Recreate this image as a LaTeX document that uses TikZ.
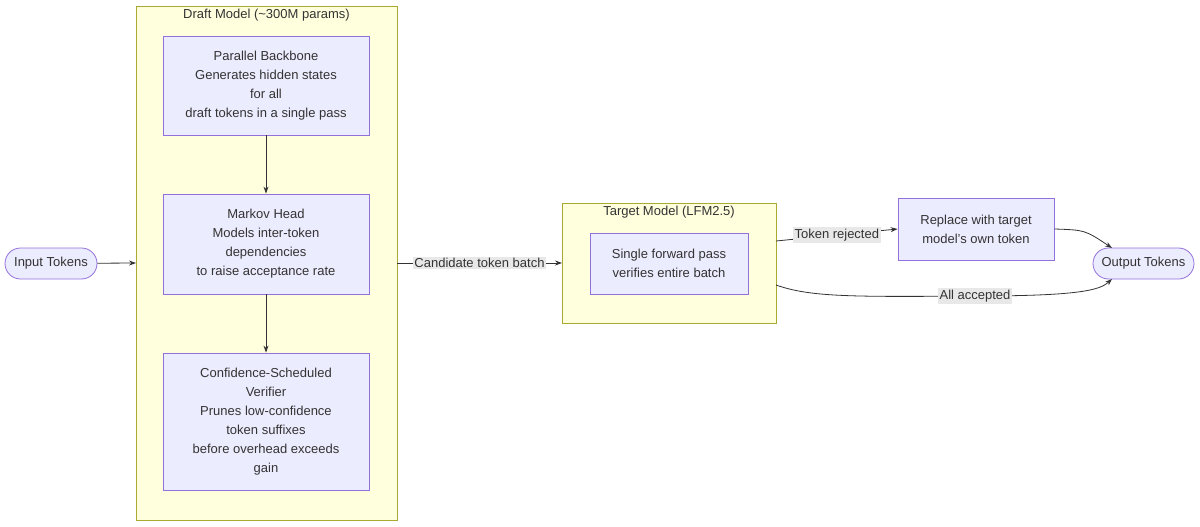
\documentclass[tikz,border=0pt]{standalone}
\usepackage{fontspec}
\setmainfont{Liberation Sans}
\usetikzlibrary{arrows.meta}
\definecolor{cfill}{HTML}{FFFFDE}\definecolor{cline}{HTML}{AAAA33}
\definecolor{nfill}{HTML}{ECECFF}\definecolor{nline}{HTML}{9370DB}
\definecolor{txt}{HTML}{333333}\definecolor{lbg}{HTML}{E8E8E8}
\begin{document}
\begin{tikzpicture}[x=1pt,y=-1pt,font=\fontsize{13}{19}\selectfont,text=txt,
 clus/.style={draw=cline,fill=cfill,line width=0.8pt},
 box/.style={draw=nline,fill=nfill,line width=0.8pt,align=center,inner sep=0},
 pill/.style={draw=nline,fill=nfill,line width=0.8pt,rounded corners=15.5pt,inner sep=0},
 arr/.style={draw=txt,line width=0.8pt,-{Stealth[length=7pt,width=5pt]}},
 lab/.style={fill=lbg,inner sep=1.5pt,text=txt}]
\useasboundingbox (0,0) rectangle (1200,527);
\path[clus] (136,6) rectangle (397,520);
\node at (266.5,15) {Draft Model (\textasciitilde300M params)};
\coordinate (dl) at (136,263); \coordinate (dr) at (397,263);
\path[clus] (562,203) rectangle (776,323);
\node at (669,212) {Target Model (LFM2.5)};
\coordinate (tl) at (562,263); \coordinate (tr1) at (776,241); \coordinate (tr2) at (776,285);
\node[pill,minimum width=92pt,minimum height=31pt] (in) at (51,263.5) {Input Tokens};
\node[pill,minimum width=101pt,minimum height=31pt] (out) at (1143.5,263.5) {Output Tokens};
\node[box,minimum width=206pt,minimum height=99pt] (pb) at (266,85.5) {Parallel Backbone\\Generates hidden states\\for all\\draft tokens in a single pass};
\node[box,minimum width=206pt,minimum height=100pt] (mh) at (266,244) {Markov Head\\Models inter-token\\dependencies\\to raise acceptance rate};
\node[box,minimum width=206pt,minimum height=137pt] (cv) at (266,421.5) {Confidence-Scheduled\\Verifier\\Prunes low-confidence\\token suffixes\\before overhead exceeds\\gain};
\node[box,minimum width=158pt,minimum height=61pt] (sf) at (669,263.5) {Single forward pass\\verifies entire batch};
\node[box,minimum width=156pt,minimum height=62pt] (rp) at (976,229) {Replace with target\\model's own token};
\draw[arr] (pb) -- (mh);
\draw[arr] (mh) -- (cv);
\draw[arr] (in) -- (dl);
\draw[arr] (dr) -- node[lab]{Candidate token batch} (tl);
\draw[arr] (tr1) -- node[lab,pos=0.5]{Token rejected} (rp.west);
\draw[arr] (rp.east) .. controls (1085,230) .. (1112,248);
\draw[arr] (tr2) .. controls (810,297) and (850,297) .. (975,296) node[lab]{All accepted} .. controls (1080,296) and (1100,290) .. (1112,279);
\end{tikzpicture}
\end{document}
